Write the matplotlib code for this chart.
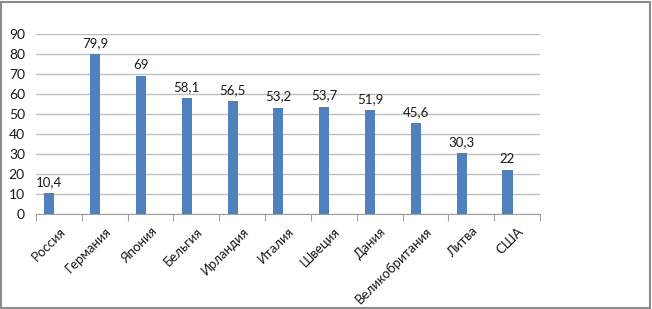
import numpy as np
import matplotlib
matplotlib.use("Agg")
import matplotlib.pyplot as plt
from matplotlib.patches import Rectangle

# data
countries = ["Россия", "Германия", "Япония", "Бельгия", "Ирландия", "Италия",
             "Швеция", "Дания", "Великобритания", "Литва", "США"]
values = [10.4, 79.9, 69, 58.1, 56.5, 53.2, 53.7, 51.9, 45.6, 30.3, 22]
labels = ["10,4", "79,9", "69", "58,1", "56,5", "53,2", "53,7", "51,9", "45,6", "30,3", "22"]

plt.rcParams['font.family'] = ['Lato', 'DejaVu Sans']

W, H = 652, 309
fig = plt.figure(figsize=(W / 100, H / 100), dpi=100)
ax = fig.add_axes([36 / W, 1 - 214 / H, (540 - 36) / W, (214 - 34) / H])

x = np.arange(len(countries))
bx = x - 0.21  # bars sit left of the category centre (empty 2nd series in the original)
ax.bar(bx, values, width=0.22, color="#4F81BD", zorder=3)
for xi, v, lab in zip(bx, values, labels):
    ax.text(xi, v + 2.5, lab, ha="center", va="bottom", fontsize=9.5, color="#1a1a1a")

ax.set_xlim(-0.5, len(countries) - 0.5)
ax.set_ylim(0, 90)
ax.set_yticks(range(0, 91, 10))
ax.tick_params(axis="y", length=0, labelsize=10, pad=8, labelcolor="#1a1a1a")
ax.yaxis.grid(True, color="#BFBFBF", linewidth=1)
ax.set_axisbelow(True)

# category ticks at boundaries, labels at centers
ax.set_xticks(np.arange(-0.5, len(countries)), minor=False)
ax.set_xticklabels([])
ax.tick_params(axis="x", which="major", length=5, color="#A0A0A0", direction="out")
ax.set_xticks(x, minor=True)
ax.set_xticklabels(countries, minor=True, rotation=45, ha="right", va="top",
                   rotation_mode="anchor", fontsize=9.5, color="#1a1a1a")
ax.tick_params(axis="x", which="minor", length=0, pad=8)

for s in ["top", "right", "left"]:
    ax.spines[s].set_visible(False)
ax.spines["bottom"].set_color("#A0A0A0")

# outer border
fig.patches.append(Rectangle((1 / W, 1 / H), 1 - 3 / W, 1 - 3 / H, transform=fig.transFigure,
                             fill=False, edgecolor="#8C8C8C", linewidth=1.5))

fig.savefig("out.png", dpi=100)
